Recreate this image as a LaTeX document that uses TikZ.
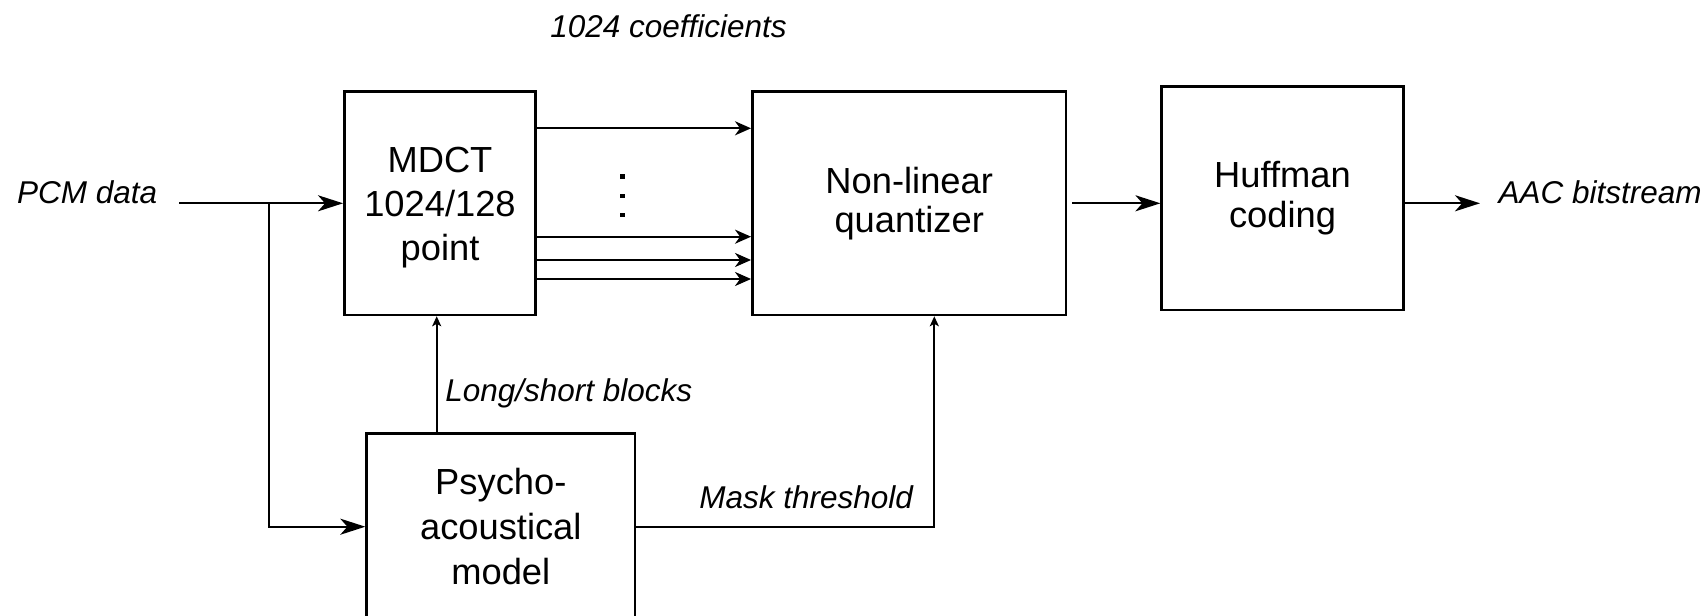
\documentclass[tikz,border=0pt]{standalone}
\usepackage{fontspec}
\setmainfont{Liberation Sans}
\usetikzlibrary{arrows.meta}

\tikzset{
  block/.style={draw, line width=1.25bp, inner sep=0pt, align=center},
  boxfont/.style={font=\fontsize{18.15bp}{#1}\selectfont},
  lbl/.style={inner sep=0pt, font=\fontsize{15.75bp}{18bp}\selectfont\itshape},
  wire/.style={line width=1.15bp},
  bigarrow/.style={wire, -{Stealth[length=12.5bp, width=8bp, inset=3.5bp]}},
  midarrow/.style={wire, -{Stealth[length=8bp, width=7bp, inset=2.5bp]}},
  smallarrow/.style={wire, -{Stealth[length=5bp, width=4.5bp, inset=1.2bp]}},
}

\begin{document}
\begin{tikzpicture}[x=0.5bp, y=-0.5bp]
  \useasboundingbox (0,0) rectangle (1708,616);
  \clip (0,0) rectangle (1708,616);

  % processing blocks
  \node[block, boxfont=21.85bp, minimum width=95.7bp, minimum height=111.7bp]
    (mdct) at (440,203.3) {\rule{0pt}{16.9bp}MDCT\\1024/128\\point};
  \node[block, boxfont=19.5bp, minimum width=156.9bp, minimum height=111.7bp]
    (quant) at (909.2,203.3) {Non-linear\\quantizer};
  \node[block, boxfont=20bp, minimum width=120.8bp, minimum height=111.7bp]
    (huff) at (1282.5,198.3) {Huffman\\coding};
  \node[block, boxfont=22.5bp, minimum width=134.2bp, minimum height=93.3bp]
    (psy) at (500.8,526.7) {Psycho-\\acoustical\\model};

  % text labels
  \node[lbl, anchor=base west] (pcm) at (16.7,203.3) {PCM data};
  \node[lbl, anchor=base west] (aac) at (1498.3,203.8) {AAC bitstream};
  \node[lbl, anchor=base] (coef) at (668.5,37.5) {1024 coefficients};
  \node[lbl, anchor=base west] (lsb) at (445,401.5) {Long/short blocks};
  \node[lbl, anchor=base west] (mask) at (699,508.3) {Mask threshold};

  % vertical ellipsis between the coefficient lines
  \foreach \yy in {176.7,196,215}
    \fill (620.4,\yy-2.3) rectangle (625,\yy+2.3);

  % input and its branch to the psychoacoustic model
  \coordinate (pcmstart) at (179,203.3);
  \coordinate (branch) at (269.3,203.3);
  \draw[bigarrow] (pcmstart) -- (mdct.west);
  \draw[bigarrow] (branch) |- (psy.west);

  % coefficient lines
  \draw[midarrow] ([yshift=37.5bp]mdct.east) -- ([yshift=37.5bp]quant.west);
  \draw[midarrow] ([yshift=-16.7bp]mdct.east) -- ([yshift=-16.7bp]quant.west);
  \draw[midarrow] ([yshift=-28.35bp]mdct.east) -- ([yshift=-28.35bp]quant.west);
  \draw[midarrow] ([yshift=-37.85bp]mdct.east) -- ([yshift=-37.85bp]quant.west);

  % quantizer -> Huffman -> output
  \coordinate (qout) at ([xshift=2.5bp]quant.east);
  \draw[bigarrow] (qout) -- (qout -| huff.west);
  \coordinate (outend) at (1480,203.3);
  \draw[bigarrow] (outend -| huff.east) -- (outend);

  % control paths from the psychoacoustic model
  \coordinate (lsfoot) at (436.7,433.3);
  \draw[smallarrow] (lsfoot) -- (lsfoot |- mdct.south);
  \draw[smallarrow] (psy.east) -| ([xshift=12.55bp]quant.south);
\end{tikzpicture}
\end{document}
